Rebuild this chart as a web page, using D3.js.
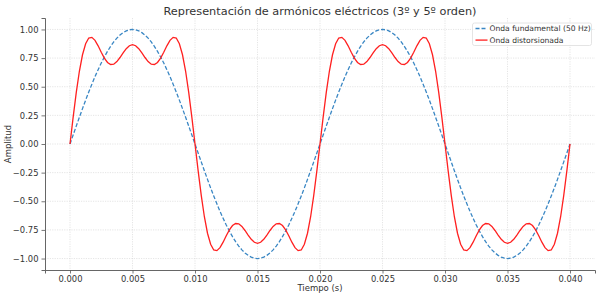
<!DOCTYPE html>
<html>
<head>
<meta charset="utf-8">
<script src="https://cdn.jsdelivr.net/npm/d3@7"></script>
<style>
  body { margin: 0; background: #fff; }
  svg text { font-family: "DejaVu Sans", sans-serif; }
</style>
</head>
<body>
<svg id="chart" width="600" height="298"></svg>
<script>
// time samples (s), every 0.00025 s
const tiempo = [
  0, 0.00025, 0.0005, 0.00075, 0.001, 0.00125, 0.0015, 0.00175, 0.002, 0.00225,
  0.0025, 0.00275, 0.003, 0.00325, 0.0035, 0.00375, 0.004, 0.00425, 0.0045, 0.00475,
  0.005, 0.00525, 0.0055, 0.00575, 0.006, 0.00625, 0.0065, 0.00675, 0.007, 0.00725,
  0.0075, 0.00775, 0.008, 0.00825, 0.0085, 0.00875, 0.009, 0.00925, 0.0095, 0.00975,
  0.01, 0.01025, 0.0105, 0.01075, 0.011, 0.01125, 0.0115, 0.01175, 0.012, 0.01225,
  0.0125, 0.01275, 0.013, 0.01325, 0.0135, 0.01375, 0.014, 0.01425, 0.0145, 0.01475,
  0.015, 0.01525, 0.0155, 0.01575, 0.016, 0.01625, 0.0165, 0.01675, 0.017, 0.01725,
  0.0175, 0.01775, 0.018, 0.01825, 0.0185, 0.01875, 0.019, 0.01925, 0.0195, 0.01975,
  0.02, 0.02025, 0.0205, 0.02075, 0.021, 0.02125, 0.0215, 0.02175, 0.022, 0.02225,
  0.0225, 0.02275, 0.023, 0.02325, 0.0235, 0.02375, 0.024, 0.02425, 0.0245, 0.02475,
  0.025, 0.02525, 0.0255, 0.02575, 0.026, 0.02625, 0.0265, 0.02675, 0.027, 0.02725,
  0.0275, 0.02775, 0.028, 0.02825, 0.0285, 0.02875, 0.029, 0.02925, 0.0295, 0.02975,
  0.03, 0.03025, 0.0305, 0.03075, 0.031, 0.03125, 0.0315, 0.03175, 0.032, 0.03225,
  0.0325, 0.03275, 0.033, 0.03325, 0.0335, 0.03375, 0.034, 0.03425, 0.0345, 0.03475,
  0.035, 0.03525, 0.0355, 0.03575, 0.036, 0.03625, 0.0365, 0.03675, 0.037, 0.03725,
  0.0375, 0.03775, 0.038, 0.03825, 0.0385, 0.03875, 0.039, 0.03925, 0.0395, 0.03975,
  0.04
];

// Onda fundamental (50 Hz)
const fundamental = [
  0, 0.078, 0.156, 0.233, 0.309, 0.383, 0.454, 0.522, 0.588, 0.649,
  0.707, 0.760, 0.809, 0.853, 0.891, 0.924, 0.951, 0.972, 0.988, 0.997,
  1.000, 0.997, 0.988, 0.972, 0.951, 0.924, 0.891, 0.853, 0.809, 0.760,
  0.707, 0.649, 0.588, 0.522, 0.454, 0.383, 0.309, 0.233, 0.156, 0.078,
  0, -0.078, -0.156, -0.233, -0.309, -0.383, -0.454, -0.522, -0.588, -0.649,
  -0.707, -0.760, -0.809, -0.853, -0.891, -0.924, -0.951, -0.972, -0.988, -0.997,
  -1.000, -0.997, -0.988, -0.972, -0.951, -0.924, -0.891, -0.853, -0.809, -0.760,
  -0.707, -0.649, -0.588, -0.522, -0.454, -0.383, -0.309, -0.233, -0.156, -0.078,
  0, 0.078, 0.156, 0.233, 0.309, 0.383, 0.454, 0.522, 0.588, 0.649,
  0.707, 0.760, 0.809, 0.853, 0.891, 0.924, 0.951, 0.972, 0.988, 0.997,
  1.000, 0.997, 0.988, 0.972, 0.951, 0.924, 0.891, 0.853, 0.809, 0.760,
  0.707, 0.649, 0.588, 0.522, 0.454, 0.383, 0.309, 0.233, 0.156, 0.078,
  0, -0.078, -0.156, -0.233, -0.309, -0.383, -0.454, -0.522, -0.588, -0.649,
  -0.707, -0.760, -0.809, -0.853, -0.891, -0.924, -0.951, -0.972, -0.988, -0.997,
  -1.000, -0.997, -0.988, -0.972, -0.951, -0.924, -0.891, -0.853, -0.809, -0.760,
  -0.707, -0.649, -0.588, -0.522, -0.454, -0.383, -0.309, -0.233, -0.156, -0.078,
  0
];

// Onda distorsionada (fundamental + 3º + 5º armónico)
const distorsionada = [
  0, 0.233, 0.449, 0.635, 0.779, 0.875, 0.925, 0.931, 0.905, 0.857,
  0.801, 0.750, 0.712, 0.694, 0.697, 0.720, 0.755, 0.795, 0.832, 0.858,
  0.867, 0.858, 0.832, 0.795, 0.755, 0.720, 0.697, 0.694, 0.712, 0.750,
  0.801, 0.857, 0.905, 0.931, 0.925, 0.875, 0.779, 0.635, 0.449, 0.233,
  0, -0.233, -0.449, -0.635, -0.779, -0.875, -0.925, -0.931, -0.905, -0.857,
  -0.801, -0.750, -0.712, -0.694, -0.697, -0.720, -0.755, -0.795, -0.832, -0.858,
  -0.867, -0.858, -0.832, -0.795, -0.755, -0.720, -0.697, -0.694, -0.712, -0.750,
  -0.801, -0.857, -0.905, -0.931, -0.925, -0.875, -0.779, -0.635, -0.449, -0.233,
  0, 0.233, 0.449, 0.635, 0.779, 0.875, 0.925, 0.931, 0.905, 0.857,
  0.801, 0.750, 0.712, 0.694, 0.697, 0.720, 0.755, 0.795, 0.832, 0.858,
  0.867, 0.858, 0.832, 0.795, 0.755, 0.720, 0.697, 0.694, 0.712, 0.750,
  0.801, 0.857, 0.905, 0.931, 0.925, 0.875, 0.779, 0.635, 0.449, 0.233,
  0, -0.233, -0.449, -0.635, -0.779, -0.875, -0.925, -0.931, -0.905, -0.857,
  -0.801, -0.750, -0.712, -0.694, -0.697, -0.720, -0.755, -0.795, -0.832, -0.858,
  -0.867, -0.858, -0.832, -0.795, -0.755, -0.720, -0.697, -0.694, -0.712, -0.750,
  -0.801, -0.857, -0.905, -0.931, -0.925, -0.875, -0.779, -0.635, -0.449, -0.233,
  0
];

const xTicks = [0, 0.005, 0.01, 0.015, 0.02, 0.025, 0.03, 0.035, 0.04];
const yTicks = [-1, -0.75, -0.5, -0.25, 0, 0.25, 0.5, 0.75, 1];
const seriesNames = ["Onda fundamental (50 Hz)", "Onda distorsionada"];

const margin = { top: 18, right: 5, bottom: 28, left: 45 };
const width = 600 - margin.left - margin.right;
const height = 298 - margin.top - margin.bottom;

const svg = d3.select("#chart");
const g = svg.append("g").attr("transform", `translate(${margin.left},${margin.top})`);

const x = d3.scaleLinear().domain([-0.002, 0.042]).range([0, width]);
const y = d3.scaleLinear().domain([-1.1, 1.1]).range([height, 0]);

// grid
g.append("g").selectAll("line").data(xTicks).join("line")
  .attr("x1", d => x(d)).attr("x2", d => x(d))
  .attr("y1", 0).attr("y2", height)
  .attr("stroke", "#d4d4d4").attr("stroke-width", 0.6)
  .attr("stroke-dasharray", "1.2,1.2");
g.append("g").selectAll("line").data(yTicks).join("line")
  .attr("x1", 0).attr("x2", width)
  .attr("y1", d => y(d)).attr("y2", d => y(d))
  .attr("stroke", "#d4d4d4").attr("stroke-width", 0.6)
  .attr("stroke-dasharray", "1.2,1.2");

// axes
const xAxis = g.append("g")
  .attr("transform", `translate(0,${height})`)
  .call(d3.axisBottom(x).tickValues(xTicks).tickFormat(d3.format(".3f")).tickSize(3.5).tickPadding(3));
const yAxis = g.append("g")
  .call(d3.axisLeft(y).tickValues(yTicks).tickFormat(d => d3.format(".2f")(d).replace("-", "\u2212")).tickSize(3.5).tickPadding(3));

[xAxis, yAxis].forEach(a => {
  a.select(".domain").attr("stroke", "#555").attr("stroke-width", 0.9);
  a.selectAll(".tick line").attr("stroke", "#555").attr("stroke-width", 0.8);
  a.selectAll(".tick text").attr("fill", "#333").attr("font-size", 8.4)
    .attr("font-family", "DejaVu Sans, sans-serif");
});

// lines
const pts = (vals) => tiempo.map((t, i) => [t, vals[i]]);
const line = d3.line().x(d => x(d[0])).y(d => y(d[1]));

g.append("path").datum(pts(fundamental))
  .attr("d", line).attr("fill", "none")
  .attr("stroke", "#3a87c4").attr("stroke-width", 1.3)
  .attr("stroke-dasharray", "4,2");

g.append("path").datum(pts(distorsionada))
  .attr("d", line).attr("fill", "none")
  .attr("stroke", "#ff2020").attr("stroke-width", 1.3);

// title and labels
svg.append("text")
  .attr("x", margin.left + width / 2).attr("y", 15)
  .attr("text-anchor", "middle").attr("font-size", 11.3).attr("fill", "#333")
  .text("Representación de armónicos eléctricos (3º y 5º orden)");

svg.append("text")
  .attr("x", margin.left + width / 2).attr("y", 291)
  .attr("text-anchor", "middle").attr("font-size", 8.5).attr("fill", "#333")
  .text("Tiempo (s)");

svg.append("text")
  .attr("transform", `translate(11,${margin.top + height / 2}) rotate(-90)`)
  .attr("text-anchor", "middle").attr("font-size", 8.5).attr("fill", "#333")
  .text("Amplitud");

// legend
const lg = svg.append("g").attr("transform", "translate(472.5,23)");
lg.append("rect").attr("width", 119).attr("height", 22.5).attr("rx", 2)
  .attr("fill", "#fff").attr("fill-opacity", 0.8)
  .attr("stroke", "#ddd").attr("stroke-width", 0.8);
const legendStyles = [
  { color: "#3a87c4", dash: "4,2" },
  { color: "#ff2020", dash: null }
];
seriesNames.forEach((name, i) => {
  const row = lg.append("g").attr("transform", `translate(0,${5.5 + i * 11.6})`);
  row.append("line").attr("x1", 3).attr("x2", 15).attr("y1", 0).attr("y2", 0)
    .attr("stroke", legendStyles[i].color).attr("stroke-width", 1.3)
    .attr("stroke-dasharray", legendStyles[i].dash);
  row.append("text").attr("x", 17).attr("y", 2.6)
    .attr("font-size", 7.6).attr("fill", "#333").text(name);
});
</script>
</body>
</html>
